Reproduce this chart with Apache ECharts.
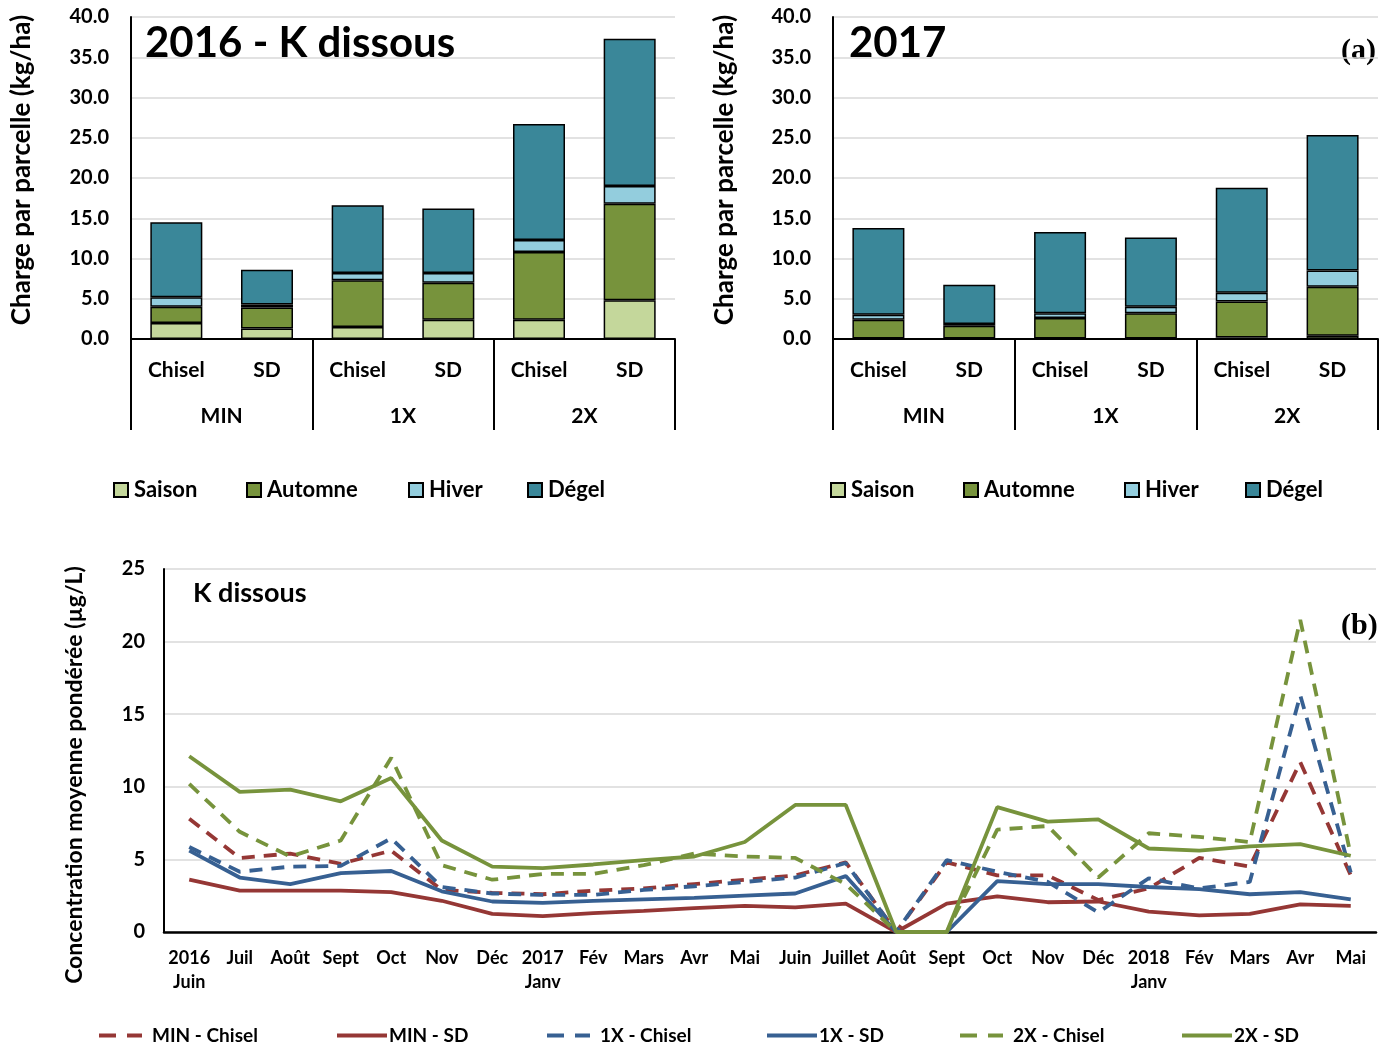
<!DOCTYPE html>
<html>
<head>
<meta charset="utf-8">
<script src="https://cdn.jsdelivr.net/npm/echarts@6/dist/echarts.min.js"></script>
<style>
  html, body { margin: 0; padding: 0; background: #ffffff; }
  #chart { width: 1394px; height: 1049px; }
</style>
</head>
<body>
<div id="chart"></div>
<script>
// Categories
const treatments = ['Chisel', 'SD', 'Chisel', 'SD', 'Chisel', 'SD'];
const doses = ['MIN', '1X', '2X'];
const periods = ['Saison', 'Automne', 'Hiver', 'Dégel'];
const months = ['2016\nJuin', 'Juil', 'Août', 'Sept', 'Oct', 'Nov', 'Déc', '2017\nJanv', 'Fév', 'Mars', 'Avr', 'Mai',
                'Juin', 'Juillet', 'Août', 'Sept', 'Oct', 'Nov', 'Déc', '2018\nJanv', 'Fév', 'Mars', 'Avr', 'Mai'];

// K dissous load per plot (kg/ha), 2016
const saison2016  = [2.0, 1.3, 1.5, 2.4, 2.4, 4.8];
const automne2016 = [2.0, 2.6, 5.8, 4.6, 8.4, 12.0];
const hiver2016   = [1.2, 0.4, 0.9, 1.2, 1.5, 2.2];
const degel2016   = [9.3, 4.3, 8.4, 8.0, 14.4, 18.3];

// K dissous load per plot (kg/ha), 2017
const saison2017  = [0.05, 0.05, 0.05, 0.05, 0.2, 0.4];
const automne2017 = [2.35, 1.6, 2.55, 3.15, 4.45, 6.1];
const hiver2017   = [0.6, 0.2, 0.6, 0.8, 1.1, 2.0];
const degel2017   = [10.8, 4.9, 10.1, 8.6, 13.05, 16.85];

// Flow-weighted mean concentration (µg/L), monthly
const minChisel = [7.8, 5.1, 5.4, 4.7, 5.6, 2.9, 2.7, 2.6, 2.85, 3.0, 3.3, 3.6, 3.9, 4.8, 0, 4.8, 3.9, 3.9, 2.2, 3.0, 5.1, 4.5, 11.7, 3.9];
const minSD     = [3.6, 2.85, 2.85, 2.85, 2.75, 2.15, 1.25, 1.1, 1.3, 1.45, 1.65, 1.8, 1.7, 1.95, 0, 1.95, 2.45, 2.05, 2.1, 1.4, 1.15, 1.25, 1.9, 1.8];
const x1Chisel  = [5.85, 4.15, 4.5, 4.55, 6.45, 3.1, 2.65, 2.55, 2.55, 2.9, 3.15, 3.45, 3.75, 4.75, 0, 4.95, 4.15, 3.45, 1.35, 3.7, 3.0, 3.45, 16.3, 4.1];
const x1SD      = [5.6, 3.75, 3.3, 4.05, 4.2, 2.8, 2.1, 2.0, 2.15, 2.25, 2.35, 2.5, 2.65, 3.85, 0, 0, 3.5, 3.3, 3.3, 3.1, 2.95, 2.6, 2.75, 2.25];
const x2Chisel  = [10.2, 6.9, 5.2, 6.3, 12.0, 4.6, 3.6, 4.0, 4.0, 4.6, 5.4, 5.2, 5.1, 3.3, 0, 0, 7.05, 7.3, 3.75, 6.8, 6.55, 6.2, 21.5, 5.3];
const x2SD      = [12.1, 9.65, 9.8, 9.0, 10.6, 6.3, 4.5, 4.4, 4.65, 4.95, 5.2, 6.2, 8.75, 8.75, 0, 0, 8.6, 7.6, 7.75, 5.75, 5.6, 5.9, 6.05, 5.25];

const FONT = 'Lato';
const periodColors = ['#C4D79B', '#77933C', '#93CDDD', '#3A8799'];
const RED = '#953735', BLUE = '#376092', GREEN = '#77933C';
const GRID_GRAY = '#D9D9D9';
const DASH = [13, 9];

const chart = echarts.init(document.getElementById('chart'), null, { renderer: 'canvas' });

function barYAxis(gridIndex) {
  return {
    type: 'value', gridIndex: gridIndex, min: 0, max: 40, interval: 5,
    axisLine: { show: true, lineStyle: { color: '#000', width: 2 } },
    axisTick: { show: false },
    splitLine: { show: true, lineStyle: { color: GRID_GRAY, width: 1.5 } },
    axisLabel: { color: '#000', fontFamily: FONT, fontWeight: 'bold', fontSize: 20, margin: 22,
                 formatter: v => v.toFixed(1) }
  };
}
function treatmentAxis(gridIndex) {
  return {
    type: 'category', gridIndex: gridIndex, data: treatments, position: 'bottom',
    axisLine: { show: true, lineStyle: { color: '#000', width: 2 } },
    axisTick: { show: false },
    axisLabel: { color: '#000', fontFamily: FONT, fontWeight: 'bold', fontSize: 21, margin: 21, interval: 0 }
  };
}
function doseAxis(gridIndex) {
  return {
    type: 'category', gridIndex: gridIndex, data: doses, position: 'bottom',
    axisLine: { show: false },
    axisTick: { show: true, length: 91, lineStyle: { color: '#000', width: 2 } },
    axisLabel: { color: '#000', fontFamily: FONT, fontWeight: 'bold', fontSize: 21, margin: 67, interval: 0 }
  };
}

const barSeries = [];
[[saison2016, automne2016, hiver2016, degel2016], [saison2017, automne2017, hiver2017, degel2017]].forEach((set, g) => {
  set.forEach((values, i) => {
    barSeries.push({
      type: 'bar', name: periods[i], xAxisIndex: g * 2, yAxisIndex: g, stack: 'year' + g,
      barWidth: 52, data: values,
      itemStyle: { color: periodColors[i], borderColor: '#000', borderWidth: 1.5 }
    });
  });
});

const lineDefs = [
  ['MIN - Chisel', minChisel, RED, true],
  ['MIN - SD', minSD, RED, false],
  ['1X - Chisel', x1Chisel, BLUE, true],
  ['1X - SD', x1SD, BLUE, false],
  ['2X - Chisel', x2Chisel, GREEN, true],
  ['2X - SD', x2SD, GREEN, false]
];
const lineSeries = lineDefs.map(d => ({
  type: 'line', name: d[0], xAxisIndex: 4, yAxisIndex: 2, data: d[1],
  symbol: 'none', smooth: false,
  lineStyle: { color: d[2], width: 3.8, type: d[3] ? DASH : 'solid' },
  itemStyle: { color: d[2] }
}));

// legends: one component per entry so each sits where it belongs
const legends = [];
const topLegendX = [[113, 246, 408, 527], [830, 963, 1124, 1245]];
topLegendX.forEach(xs => {
  xs.forEach((x, i) => {
    legends.push({
      left: x, top: 479, padding: 0, data: [periods[i]], icon: 'rect', itemWidth: 14, itemHeight: 14,
      selectedMode: false,
      textStyle: { color: '#000', fontFamily: FONT, fontWeight: 'bold', fontSize: 22, padding: [0, 0, 0, 1] }
    });
  });
});
const bottomLegendX = [97, 335, 545, 765, 958, 1180];
bottomLegendX.forEach((x, i) => {
  const dashed = lineDefs[i][3];
  legends.push({
    left: x, top: 1026, padding: 0, data: [lineDefs[i][0]],
    itemWidth: dashed ? 43 : 50, itemHeight: 14, selectedMode: false,
    itemStyle: { opacity: 0 },
    lineStyle: { width: 4, type: dashed ? [17, 11] : 'solid' },
    textStyle: { color: '#000', fontFamily: FONT, fontWeight: 'bold', fontSize: 19, padding: dashed ? [0, 0, 0, 5] : [0, 0, 0, -3] }
  });
});

function rotatedTitle(text, x, y, size) {
  return {
    type: 'text', x: x, y: y, rotation: Math.PI / 2,
    style: { text: text, fill: '#000', font: 'bold ' + size + 'px ' + FONT, align: 'center', verticalAlign: 'middle' }
  };
}
function plainText(text, x, y, font) {
  return { type: 'text', x: x, y: y, style: { text: text, fill: '#000', font: font, align: 'left', verticalAlign: 'middle' } };
}

const option = {
  backgroundColor: '#ffffff',
  animation: false,
  grid: [
    { left: 131, top: 17, width: 544, height: 322, outerBoundsMode: 'none' },
    { left: 833, top: 17, width: 545, height: 322, outerBoundsMode: 'none' },
    { left: 164, top: 569, width: 1212, height: 363, outerBoundsMode: 'none' }
  ],
  xAxis: [
    treatmentAxis(0), doseAxis(0),
    treatmentAxis(1), doseAxis(1),
    {
      type: 'category', gridIndex: 2, data: months, boundaryGap: true,
      axisLine: { show: true, lineStyle: { color: '#000', width: 2.5 } },
      axisTick: { show: false },
      axisLabel: { color: '#000', fontFamily: FONT, fontWeight: 'bold', fontSize: 18, margin: 14, interval: 0, lineHeight: 24 }
    }
  ],
  yAxis: [
    barYAxis(0), barYAxis(1),
    {
      type: 'value', gridIndex: 2, min: 0, max: 25, interval: 5,
      axisLine: { show: true, lineStyle: { color: '#000', width: 2 } },
      axisTick: { show: false },
      splitLine: { show: true, lineStyle: { color: GRID_GRAY, width: 1.5 } },
      axisLabel: { color: '#000', fontFamily: FONT, fontWeight: 'bold', fontSize: 20, margin: 19 }
    }
  ],
  legend: legends,
  series: barSeries.concat(lineSeries),
  graphic: [
    rotatedTitle('Charge par parcelle (kg/ha)', 22, 170, 26),
    rotatedTitle('Charge par parcelle (kg/ha)', 725, 170, 26),
    rotatedTitle('Concentration moyenne pondérée (µg/L)', 75, 775, 23),
    plainText('2016 - K dissous', 145, 43, 'bold 42px ' + FONT),
    plainText('2017', 849, 43, 'bold 42px ' + FONT),
    plainText('K dissous', 193, 593, 'bold 27px ' + FONT),
    plainText('(a)', 1341, 51, 'bold 30px "Liberation Serif"'),
    plainText('(b)', 1341, 626, 'bold 30px "Liberation Serif"')
  ]
};
chart.setOption(option);
</script>
</body>
</html>
